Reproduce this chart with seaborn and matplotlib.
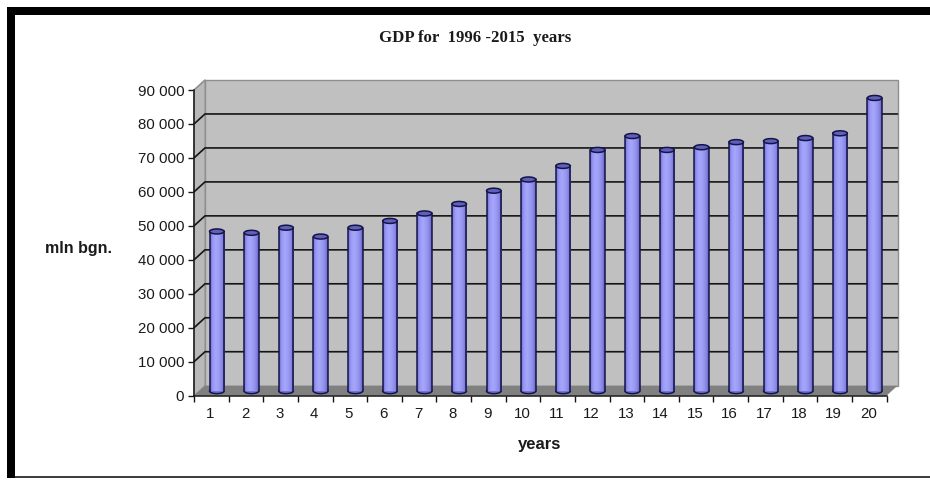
import numpy as np
import pandas as pd
import matplotlib
matplotlib.use("Agg")
import matplotlib.pyplot as plt
import seaborn as sns
from matplotlib.patches import Polygon, Rectangle, Ellipse
from matplotlib.colors import LinearSegmentedColormap
from matplotlib.ticker import FuncFormatter
from matplotlib.transforms import ScaledTranslation

years = [str(i) for i in range(1, 21)]
gdp = [47000, 46600, 48100, 45500, 48100, 50100, 52300, 55100, 59000, 62300,
       66300, 71000, 75100, 71000, 71800, 73300, 73600, 74500, 75900, 86300]
y_ticks = list(range(0, 90001, 10000))
title_text = "GDP for  1996 -2015  years"
x_title = "years"
y_title = "mln bgn."

W, H = 930, 480
L, R, T, B = 194, 886.5, 90, 395.7   # front plot box, pixels from top-left
DEPTH_X, DEPTH_Y = 11, 10            # 3-D depth of the floor and walls, pixels

sns.set_theme(style="white")
plt.rcParams["font.family"] = ["Liberation Sans", "DejaVu Sans"]

fig = plt.figure(figsize=(W / 100, H / 100), dpi=100, facecolor="white")
ax = fig.add_axes([L / W, 1 - B / H, (R - L) / W, (B - T) / H])

frame = pd.DataFrame({"year": years, "gdp": gdp})
sns.barplot(data=frame, x="year", y="gdp", color="#8c8cf0", width=0.42,
            saturation=1, ax=ax, zorder=5)
ax.set_xlim(-0.5, len(years) - 0.5)
ax.set_ylim(0, 90000)
ax.set_facecolor("none")

x_per_px = len(years) / (R - L)
y_per_px = 90000 / (B - T)
dx, dy = DEPTH_X * x_per_px, DEPTH_Y * y_per_px
x0, x1 = -0.5, len(years) - 0.5

# Back wall, side wall and floor of the 3-D box
ax.add_patch(Polygon([(x0 + dx, dy), (x1 + dx, dy), (x1 + dx, 90000 + dy), (x0 + dx, 90000 + dy)],
                     closed=True, fc="#c0c0c0", ec="#8f8f8f", lw=1, clip_on=False, zorder=1))
ax.add_patch(Polygon([(x0, 0), (x0 + dx, dy), (x0 + dx, 90000 + dy), (x0, 90000)],
                     closed=True, fc="#b9b9b9", ec="#8f8f8f", lw=0.8, clip_on=False, zorder=1))
ax.add_patch(Polygon([(x0, 0), (x1, 0), (x1 + dx, dy), (x0 + dx, dy)],
                     closed=True, fc="#808080", ec="none", clip_on=False, zorder=2))

# Gridlines run along the side wall and across the back wall
for v in y_ticks[1:-1]:
    ax.plot([x0, x0 + dx, x1 + dx], [v, v + dy, v + dy], color="#151515", lw=1.2,
            clip_on=False, zorder=3, solid_joinstyle="miter")
ax.plot([x0, x0 + dx], [90000, 90000 + dy], color="#8f8f8f", lw=1, clip_on=False, zorder=3)

# Cylinders stand halfway back in the box
shaft = LinearSegmentedColormap.from_list(
    "shaft", ["#7070d4", "#9a9af6", "#a6a6fc", "#9c9cf4", "#8a8ae6", "#6464c0"])
shade = np.linspace(0, 1, 64).reshape(1, -1)
rise_x = DEPTH_X / 2 * x_per_px
rise_y = 4.6 * y_per_px
cap_h = 5 * y_per_px
for bar, value in zip(ax.patches[:len(gdp)], gdp):
    left, width = bar.get_x(), bar.get_width()
    cx = left + width / 2 + rise_x
    base = rise_y
    top = value + rise_y
    bar.set_visible(False)
    ax.imshow(shade, cmap=shaft, aspect="auto", zorder=5, clip_on=False,
              extent=(left + rise_x, left + width + rise_x, base, top))
    ax.plot([left + rise_x] * 2, [base, top], color="#14144a", lw=1.1, zorder=6, clip_on=False)
    ax.plot([left + width + rise_x] * 2, [base, top], color="#14144a", lw=1.1, zorder=6, clip_on=False)
    ax.add_patch(Ellipse((cx, base), width, cap_h, fc="#7272d0", ec="#14144a", lw=1.1,
                         zorder=4.5, clip_on=False))
    ax.add_patch(Ellipse((cx, top), width, cap_h, fc="#6060b8", ec="#14144a", lw=1.1,
                         zorder=7, clip_on=False))
ax.set_xlim(x0, x1)
ax.set_ylim(0, 90000)

# Axes, ticks and labels
for side in ("top", "right"):
    ax.spines[side].set_visible(False)
for side in ("left", "bottom"):
    ax.spines[side].set_color("#151515")
    ax.spines[side].set_linewidth(1.1)
    ax.spines[side].set_zorder(8)
ax.set_yticks(y_ticks)
ax.yaxis.set_major_formatter(FuncFormatter(lambda v, _: f"{int(v):,}".replace(",", " ")))
ax.set_xticks(np.arange(-0.5, len(years)), minor=True)
ax.set_xticks(range(len(years)))
ax.set_xticklabels(years)
ax.tick_params(axis="x", which="major", length=0, pad=8, labelsize=10.8, labelcolor="#1a1a1a")
ax.tick_params(axis="x", which="minor", length=4, width=1, color="#151515", bottom=True)
ax.tick_params(axis="y", length=4, width=1, color="#151515", pad=3, labelsize=10.8,
               labelcolor="#1a1a1a", left=True)
nudge = ScaledTranslation(-1 / 100, 0, fig.dpi_scale_trans)
for label in ax.get_xticklabels():
    label.set_transform(label.get_transform() + nudge)
ax.set_xlabel("")
ax.set_ylabel("")

fig.text(540 / W, 1 - 444 / H, x_title, ha="center", va="center", fontsize=12, fontweight="bold",
         color="#1a1a1a")
fig.text(78.5 / W, 1 - 249 / H, y_title, ha="center", va="center", fontsize=11.5, fontweight="bold",
         color="#1a1a1a")
fig.text(475 / W, 1 - 37.5 / H, title_text, ha="center", va="center", fontsize=12.1, fontweight="bold",
         family=["Liberation Serif"], color="#1a1a1a")

# Heavy black frame along the top and left, thin rule along the bottom
fig.add_artist(Rectangle((7 / W, 1 - 15 / H), (W - 7) / W, 8 / H, transform=fig.transFigure,
                         fc="black", ec="none"))
fig.add_artist(Rectangle((7 / W, 1 - 478 / H), 8 / W, 471 / H, transform=fig.transFigure,
                         fc="black", ec="none"))
fig.add_artist(Rectangle((15 / W, 1 - 478 / H), (W - 15) / W, 1.6 / H, transform=fig.transFigure,
                         fc="#404040", ec="none"))

fig.savefig("out.png", dpi=100, facecolor="white")
